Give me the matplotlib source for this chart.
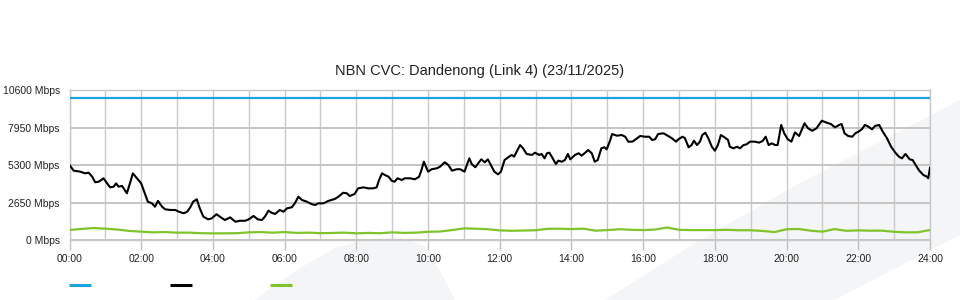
import matplotlib
matplotlib.use("Agg")
import matplotlib.pyplot as plt
from matplotlib.lines import Line2D
from matplotlib.patches import Polygon

plt.rcParams['font.family'] = ['Liberation Sans', 'DejaVu Sans']

title = "NBN CVC: Dandenong (Link 4) (23/11/2025)"
y_ticks = [0, 2650, 5300, 7950, 10600]
y_labels = [f"{v} Mbps" for v in y_ticks]
x_tick_minutes = list(range(0, 1441, 120))
x_labels = [f"{m // 60:02d}:00" for m in x_tick_minutes]

capacity_minutes = [0, 1440]
capacity_values = [10000, 10000]

traffic_minutes = [
    0, 7, 18, 26, 32, 38, 43, 49, 57, 63, 68, 74, 78, 82, 88, 96, 102, 106, 113, 120,
    127, 131, 138, 143, 148, 155, 160, 169, 177, 183, 191, 197, 202, 207, 213, 218, 224, 232, 238, 246,
    254, 260, 269, 274, 278, 285, 294, 300, 308, 315, 322, 327, 333, 338, 344, 352, 358, 364, 372, 377,
    383, 389, 397, 405, 411, 416, 425, 433, 444, 450, 458, 464, 469, 477, 483, 492, 500, 508, 514, 518,
    523, 528, 534, 539, 544, 549, 556, 561, 570, 578, 585, 589, 593, 600, 606, 615, 620, 628, 634, 640,
    648, 654, 661, 669, 673, 679, 684, 689, 695, 700, 705, 711, 717, 722, 728, 734, 740, 744, 754, 759,
    765, 774, 779, 786, 790, 795, 799, 803, 807, 814, 818, 824, 829, 834, 838, 846, 852, 857, 863, 868,
    874, 879, 884, 890, 895, 899, 905, 908, 916, 924, 930, 935, 942, 946, 955, 963, 970, 975, 980, 985,
    994, 999, 1008, 1015, 1019, 1026, 1030, 1036, 1041, 1045, 1050, 1055, 1059, 1064, 1069, 1075, 1080, 1085, 1090, 1096,
    1102, 1105, 1111, 1117, 1122, 1128, 1133, 1139, 1147, 1154, 1160, 1165, 1170, 1175, 1181, 1185, 1191, 1196, 1202, 1208,
    1214, 1221, 1230, 1236, 1243, 1250, 1259, 1267, 1274, 1281, 1288, 1292, 1297, 1303, 1310, 1315, 1320, 1326, 1331, 1337,
    1343, 1348, 1355, 1361, 1368, 1375, 1382, 1388, 1393, 1399, 1406, 1411, 1416, 1422, 1429, 1435, 1437, 1440,
]
traffic_values = [
    5300, 4900, 4830, 4710, 4760, 4470, 4080, 4120, 4360, 4000, 3720, 3770, 4000, 3770, 3820, 3300, 4120, 4710, 4360, 4000,
    3180, 2710, 2590, 2350, 2760, 2350, 2170, 2120, 2120, 2000, 1890, 2000, 2300, 2710, 2880, 2240, 1650, 1460, 1530, 1820,
    1580, 1410, 1600, 1410, 1290, 1360, 1360, 1460, 1700, 1460, 1410, 1650, 2070, 1930, 1840, 2120, 2000, 2240, 2310, 2590,
    3060, 2830, 2710, 2540, 2470, 2590, 2590, 2760, 2900, 3060, 3340, 3300, 3110, 3250, 3650, 3720, 3650, 3650, 3720, 4240,
    4710, 4590, 4470, 4190, 4120, 4360, 4240, 4360, 4360, 4290, 4470, 4950, 5530, 4830, 5000, 5070, 5180, 5490, 5300, 4900,
    5000, 5000, 4830, 5770, 5370, 5140, 5420, 5700, 5490, 5700, 5300, 4830, 4640, 4830, 5650, 5840, 6010, 5890, 6710, 6480,
    6080, 6010, 6170, 6010, 6080, 5770, 6130, 6170, 5890, 5370, 5610, 5530, 5650, 6080, 5700, 6010, 6130, 5960, 6170, 6360,
    6130, 5530, 5650, 6480, 6550, 6410, 7070, 7490, 7370, 7420, 7300, 6950, 6950, 7070, 7350, 7300, 7300, 7070, 7120, 7490,
    7540, 7420, 7190, 6950, 7120, 7300, 7190, 6550, 6710, 7020, 6710, 6950, 7420, 7580, 7190, 6590, 6310, 6710, 7420, 7260,
    7070, 6590, 6480, 6590, 6480, 6710, 6760, 6950, 6950, 6880, 7000, 7300, 6710, 6830, 6710, 6710, 8130, 7540, 7120, 6950,
    7600, 7350, 8250, 7890, 7720, 7890, 8430, 8290, 8200, 7960, 8130, 8200, 7540, 7350, 7300, 7540, 7650, 7820, 8130, 8010,
    7820, 8060, 8130, 7650, 7190, 6590, 6170, 5890, 5770, 6080, 5700, 5650, 5300, 4900, 4590, 4470, 4360, 5100,
]

green_minutes = list(range(0, 1441, 20))
green_values = [
    707, 780, 848, 800, 740, 640, 590, 540, 560, 520, 520, 480, 470, 470, 480, 540, 560, 520, 560, 500,
    520, 480, 500, 520, 470, 500, 480, 540, 500, 520, 580, 600, 700, 820, 800, 760, 680, 650, 670, 690,
    790, 800, 770, 800, 660, 700, 760, 720, 700, 740, 880, 720, 700, 700, 700, 720, 690, 690, 640, 560,
    760, 780, 660, 590, 770, 650, 680, 660, 660, 580, 540, 550, 707,
]

W, H = 960, 300
fig = plt.figure(figsize=(W / 100, H / 100), dpi=100)

# faint background watermark shapes (behind everything)
wm_color = '#f4f5f7'
left_shape = [(254, 300), (300, 268), (335, 248), (365, 239), (400, 237), (425, 246), (445, 280), (455, 300)]
right_shape = [(605, 300), (700, 240), (800, 183), (960, 100), (960, 235), (834, 300)]
for shp in (left_shape, right_shape):
    fig.patches.append(Polygon([(x / W, 1 - y / H) for x, y in shp], closed=True,
                               transform=fig.transFigure, facecolor=wm_color,
                               edgecolor='none', zorder=-5))

x0, x1, ytop, ybot = 69.5, 930.0, 90.0, 240.0
ax = fig.add_axes([x0 / W, 1 - ybot / H, (x1 - x0) / W, (ybot - ytop) / H])
ax.set_facecolor('none')
ax.set_zorder(2)

ax.plot(capacity_minutes, capacity_values, color='#1ba3e0', lw=1.6, zorder=3)
ax.plot(green_minutes, green_values, color='#80c32a', lw=1.6, zorder=3)
ax.plot(traffic_minutes, traffic_values, color='black', lw=1.5, zorder=4)

ax.set_xlim(0, 1440)
ax.set_ylim(0, 10600)
ax.set_xticks(x_tick_minutes)
ax.set_xticklabels(x_labels)
ax.set_xticks(list(range(0, 1441, 60)), minor=True)
ax.set_yticks(y_ticks)
ax.set_yticklabels(y_labels)

ax.grid(axis='x', which='both', color='#cacaca', lw=1.0, zorder=1)
ax.grid(axis='y', which='major', color='#c4c4c4', lw=1.4, zorder=1)
ax.set_axisbelow(True)
for s in ax.spines.values():
    s.set_color('#c8c8c8')
    s.set_linewidth(1.0)

ax.tick_params(axis='x', which='major', length=7, width=1, color='#c0c0c0', pad=3,
               labelsize=7.5, labelcolor='#222222')
ax.tick_params(axis='x', which='minor', length=0)
ax.tick_params(axis='y', length=0, pad=7, labelsize=7.5, labelcolor='#222222')

fig.text(480 / W, 1 - 71 / H, title, ha='center', va='center', fontsize=10.5, color='#222222')

# legend swatches (no labels in the reference)
for (xa, xb), col in zip([(69, 91), (170, 192), (270, 292)], ['#1ba3e0', 'black', '#80c32a']):
    fig.add_artist(Line2D([xa / W, xb / W], [1 - 285 / H, 1 - 285 / H],
                          transform=fig.transFigure, color=col, lw=2.2, solid_capstyle='butt'))

fig.savefig('out.png', dpi=100)
